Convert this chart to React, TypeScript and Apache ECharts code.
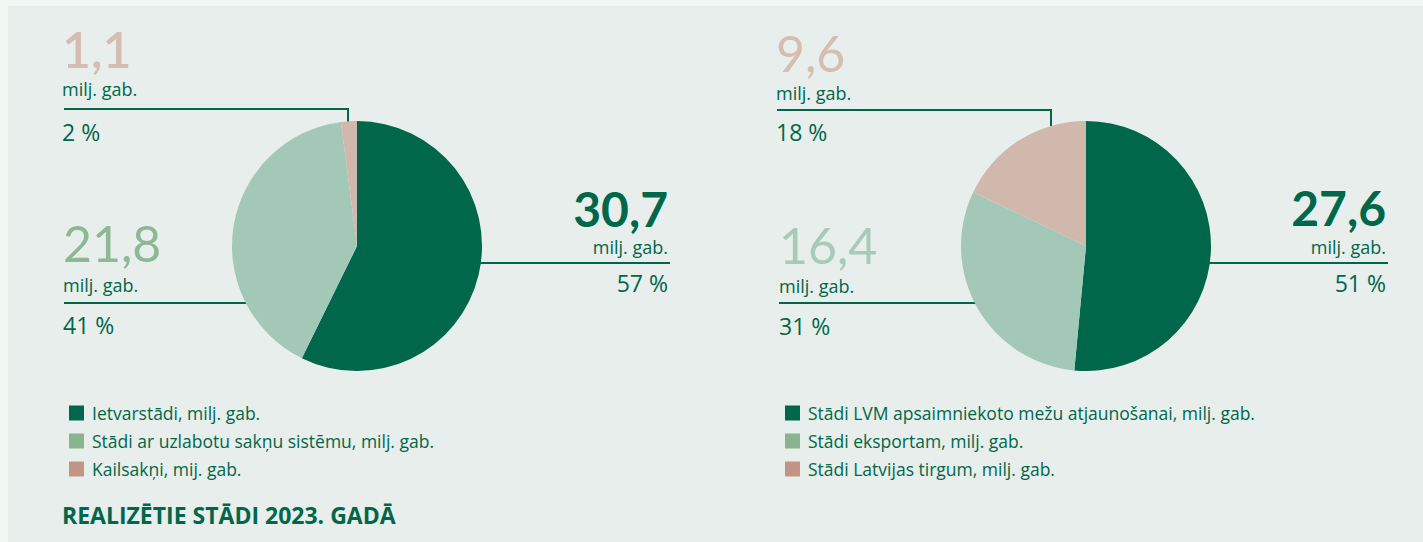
import React, { useEffect, useRef } from "react";
import * as echarts from "echarts";

const names1 = ["Ietvarstādi, milj. gab.", "Stādi ar uzlabotu sakņu sistēmu, milj. gab.", "Kailsakņi, mij. gab."];
const values1 = [30.7, 21.8, 1.1];
const pct1 = [57, 41, 2];

const names2 = ["Stādi LVM apsaimniekoto mežu atjaunošanai, milj. gab.", "Stādi eksportam, milj. gab.", "Stādi Latvijas tirgum, milj. gab."];
const values2 = [27.6, 16.4, 9.6];
const pct2 = [51, 31, 18];

const pieColors = ["#00674a", "#a4c8b8", "#d1b8ac"];
const legendColors = ["#00674a", "#8ab38f", "#c09584"];
const bigColors1 = ["#00674a", "#8db894", "#d5bdb2"];
const bigColors2 = ["#00674a", "#a8cbb9", "#d5bdb2"];
const unit = "milj. gab.";
const title = "REALIZĒTIE STĀDI 2023. GADĀ";

const NUMFONT = "Lato, sans-serif";
const FONT = "'Open Sans', sans-serif";
const GREEN = "#00674a";

function fmt(v: number) {
  return v.toFixed(1).replace(".", ",");
}

type Anno = {
  x: number; align: "left" | "right"; numY: number; unitY: number; pctY: number;
  line: number[][]; value: number; pct: number; color: string; weight: any; size: number;
};

function annoGraphics(a: Anno) {
  const base = { align: a.align, verticalAlign: "middle" };
  return [
    { type: "text", x: a.x, y: a.numY, style: { ...base, fontFamily: NUMFONT, lineHeight: 34, text: fmt(a.value), fontSize: a.size, fontWeight: a.weight, fill: a.color } },
    { type: "text", x: a.x, y: a.unitY, style: { ...base, fontFamily: FONT, lineHeight: 16, text: unit, fontSize: 18, fill: GREEN } },
    { type: "text", x: a.x, y: a.pctY, style: { ...base, fontFamily: FONT, text: a.pct + " %", fontSize: 23, fill: GREEN } },
    { type: "polyline", shape: { points: a.line }, style: { stroke: GREEN, lineWidth: 2, fill: null } },
  ];
}

export default function App() {
  const ref = useRef<HTMLDivElement>(null);
  useEffect(() => {
    document.body.style.margin = "0";
    const chart = echarts.init(ref.current!, null, { renderer: "svg" });
    const annos: Anno[] = [
      { x: 62, align: "left", numY: 49, unitY: 89, pctY: 132, line: [[64, 109], [348, 109], [348, 123]], value: values1[2], pct: pct1[2], color: bigColors1[2], weight: 600, size: 50 },
      { x: 63, align: "left", numY: 243, unitY: 285, pctY: 325, line: [[64, 303], [248, 303]], value: values1[1], pct: pct1[1], color: bigColors1[1], weight: "normal", size: 50 },
      { x: 668, align: "right", numY: 208, unitY: 247, pctY: 283, line: [[478, 263], [670, 263]], value: values1[0], pct: pct1[0], color: bigColors1[0], weight: "bold", size: 48 },
      { x: 776, align: "left", numY: 53, unitY: 93, pctY: 132, line: [[777, 110], [1051, 110], [1051, 126]], value: values2[2], pct: pct2[2], color: bigColors2[2], weight: "normal", size: 50 },
      { x: 779, align: "left", numY: 245, unitY: 286, pctY: 326, line: [[779, 303], [978, 303]], value: values2[1], pct: pct2[1], color: bigColors2[1], weight: "normal", size: 50 },
      { x: 1386, align: "right", numY: 207, unitY: 247, pctY: 283, line: [[1208, 263], [1388, 263]], value: values2[0], pct: pct2[0], color: bigColors2[0], weight: "bold", size: 48 },
    ];
    const graphics: any[] = [
      { type: "rect", z: -10, shape: { x: 8, y: 6, width: 1415, height: 536 }, style: { fill: "#e8eeeb" } },
      { type: "text", x: 62, y: 515, style: { text: title, fontFamily: FONT, fontSize: 23, fontWeight: "bold", fill: GREEN, verticalAlign: "middle" } },
    ];
    annos.forEach((a) => graphics.push(...annoGraphics(a)));

    const legendBase = {
      orient: "vertical", icon: "rect", itemWidth: 15, itemHeight: 15, itemGap: 8,
      textStyle: { fontFamily: FONT, fontSize: 17.5, color: GREEN, padding: [0, 0, 0, 3], lineHeight: 20 },
      selectedMode: false,
    };
    chart.setOption({
      animation: false,
      backgroundColor: "#f2f7f4",
      graphic: graphics,
      legend: [
        { ...legendBase, left: 64, top: 398, data: names1.map((n, i) => ({ name: n, itemStyle: { color: legendColors[i] } })) },
        { ...legendBase, left: 780, top: 398, data: names2.map((n, i) => ({ name: n, itemStyle: { color: legendColors[i] } })) },
      ],
      series: [
        {
          type: "pie", center: [357, 246], radius: 125, startAngle: 90, clockwise: true,
          label: { show: false }, labelLine: { show: false }, silent: true,
          itemStyle: { borderWidth: 0 },
          data: names1.map((n, i) => ({ name: n, value: values1[i], itemStyle: { color: pieColors[i] } })),
        },
        {
          type: "pie", center: [1086, 246], radius: 125, startAngle: 90, clockwise: true,
          label: { show: false }, labelLine: { show: false }, silent: true,
          itemStyle: { borderWidth: 0 },
          data: names2.map((n, i) => ({ name: n, value: values2[i], itemStyle: { color: pieColors[i] } })),
        },
      ],
    });
    return () => chart.dispose();
  }, []);
  return <div ref={ref} style={{ width: 1423, height: 542 }} />;
}
